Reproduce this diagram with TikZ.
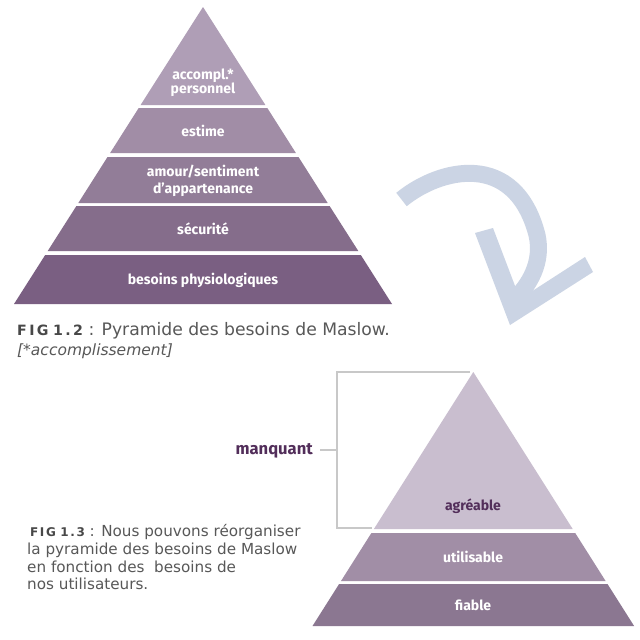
\documentclass[tikz,border=0pt]{standalone}
\usepackage{fontspec}
\setmainfont{DejaVu Sans}
\newfontfamily\labfont{Fira Sans}
\definecolor{pa}{RGB}{175,158,182}
\definecolor{pb}{RGB}{161,141,166}
\definecolor{pc}{RGB}{146,125,152}
\definecolor{pd}{RGB}{133,109,139}
\definecolor{pe}{RGB}{122,95,130}
\definecolor{qa}{RGB}{201,190,207}
\definecolor{qb}{RGB}{161,142,166}
\definecolor{qc}{RGB}{139,119,145}
\definecolor{darkp}{RGB}{82,46,90}
\definecolor{arrowc}{RGB}{203,212,228}
\definecolor{capgray}{RGB}{88,88,88}
\definecolor{figgray}{RGB}{72,72,72}
\definecolor{brkgray}{RGB}{200,200,200}
% #1 size, #2 spacing, #3 number
\newcommand\figlbl[3]{{\color{figgray}\fontsize{#1}{#1}\selectfont\bfseries F\kern#2 I\kern#2 G\kern4.5pt #3}}
\begin{document}
\begin{tikzpicture}[x=1pt,y=-1pt,
  lab/.style={text=white, font=\labfont\fontsize{14}{16}\selectfont\bfseries, inner sep=0pt, anchor=base},
  labd/.style={lab, text=darkp},
  capa/.style={text=capgray, font=\fontsize{17.2}{20}\selectfont, inner sep=0pt, anchor=base west},
  capb/.style={text=capgray, font=\fontsize{15.2}{18}\selectfont, inner sep=0pt, anchor=base west},
  brk/.style={draw=brkgray, line width=1.5pt}]
\useasboundingbox (0,0) rectangle (640,640);
\fill[white] (0,0) rectangle (640,640);

% ---- pyramid 1 (Maslow) ----
\fill[pa] (203,7) -- (265.4,105) -- (140.6,105) -- cycle;
\fill[pb] (138.7,108) -- (267.3,108) -- (295.9,153) -- (110.1,153) -- cycle;
\fill[pc] (107.5,157) -- (298.5,157) -- (327.7,203) -- (78.3,203) -- cycle;
\fill[pd] (76.4,206) -- (329.6,206) -- (358.3,251) -- (47.7,251) -- cycle;
\fill[pe] (45.2,255) -- (360.8,255) -- (392,304) -- (14,304) -- cycle;

\node[lab] (l1a) at (203,79) {accompl.*};
\node[lab] (l1b) at (203,93) {personnel};
\node[lab] (l2) at (203,136) {estime};
\node[lab] (l3a) at (203,176) {amour/sentiment};
\node[lab] (l3b) at (203,193) {d’appartenance};
\node[lab] (l4) at (203,234) {sécurité};
\node[lab] (l5) at (203,284) {besoins physiologiques};

\node[capa] (c12a) at (17,335) {\figlbl{14.2}{2.4pt}{1\kern2.4pt.\kern2.4pt2} : Pyramide des besoins de Maslow.};
\node[capa, font=\fontsize{15.5}{20}\selectfont\itshape] (c12b) at (17,355) {[*accomplissement]};

% ---- curved arrow ----
\fill[arrowc] (475,233) -- (510,325) -- (593,272) -- (585,257) -- (520,299) -- (493,228) -- cycle;
\draw[arrowc, line width=17pt] (401.5,199.5) .. controls (440,168) and (515,150) .. (537,235)
  .. controls (543,262) and (530,285) .. (512,302);

% ---- pyramid 2 ----
\fill[qa] (473.3,372) -- (572.7,529) -- (373.9,529) -- cycle;
\fill[qb] (371.4,533) -- (575.2,533) -- (605.6,581) -- (341,581) -- cycle;
\fill[qc] (339.1,584) -- (607.5,584) -- (634.1,626) -- (312.5,626) -- cycle;

\node[labd] (m1) at (473,510) {agréable};
\node[lab] (m2) at (473,562) {utilisable};
\node[lab] (m3) at (473,610) {fiable};

% ---- bracket ----
\coordinate (bTop) at (470,372);
\coordinate (bTL) at (337,372);
\coordinate (bMid) at (337,450);
\coordinate (bBL) at (337,528);
\coordinate (bBot) at (372,528);
\coordinate (bTick) at (320,450);
\draw[brk] (bTop) -- (bTL) -- (bBL) -- (bBot);
\draw[brk] (bTick) -- (bMid);
\node[labd, font=\labfont\fontsize{16.6}{18}\selectfont\bfseries, anchor=base east] (miss) at (313,454) {manquant};

% ---- caption 1.3 ----
\node[capb] (c13a) at (30,536) {\figlbl{12}{1.6pt}{1\kern1.6pt.\kern1.6pt3} : Nous pouvons réorganiser};
\node[capb] (c13b) at (27,554) {la pyramide des besoins de Maslow};
\node[capb] (c13c) at (27,572) {en fonction des\ \ besoins de};
\node[capb] (c13d) at (27,589) {nos utilisateurs.};
\end{tikzpicture}
\end{document}
